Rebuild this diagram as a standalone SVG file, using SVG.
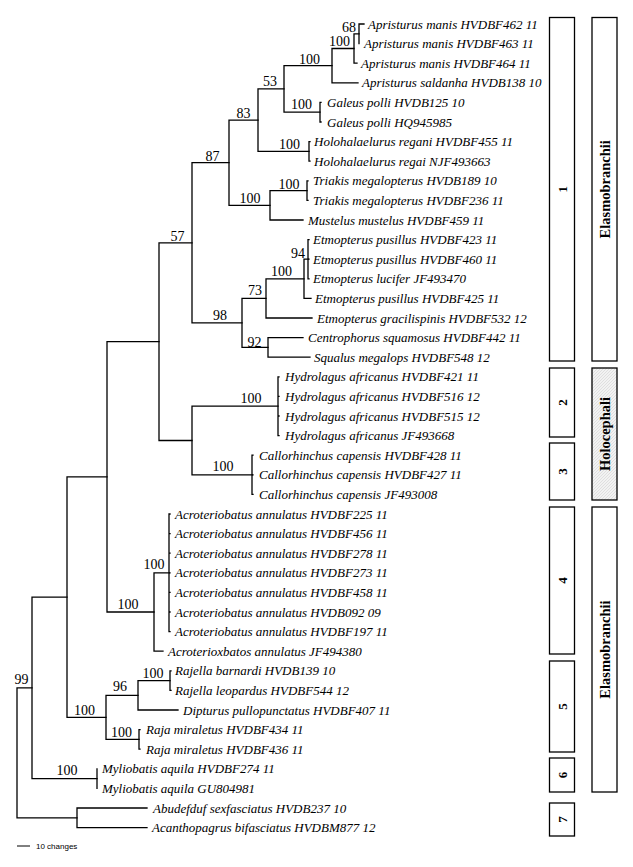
<svg xmlns="http://www.w3.org/2000/svg" width="633" height="867" viewBox="0 0 633 867">
<style>
.c{fill:none;stroke:#000;stroke-width:1.3;stroke-linecap:square}
.t{font-family:"Liberation Serif","Times New Roman",serif;font-style:italic;font-size:13px;fill:#000}
.s{font-family:"Liberation Serif","Times New Roman",serif;font-size:14px;fill:#000;text-anchor:middle}
.b{fill:#fff;stroke:#000;stroke-width:1.3}
.bn{font-family:"Liberation Serif","Times New Roman",serif;font-weight:bold;font-size:13px;text-anchor:middle}
.gl{font-family:"Liberation Serif","Times New Roman",serif;font-weight:bold;font-size:14.5px;text-anchor:middle}
</style>
<defs>
<pattern id="hatch" patternUnits="userSpaceOnUse" width="3" height="3">
<rect width="3" height="3" fill="#f2f2f2"/>
<path d="M-1 1 L1 -1 M0 3 L3 0 M2 4 L4 2" stroke="#d2d2d2" stroke-width="0.6"/>
</pattern>
</defs>
<rect width="633" height="867" fill="#fff"/>
<g id="connectors" class="c">
<path d="M364 24 H359 V43.6"/>
<path d="M359 33.8 H354 V63.2 H357"/>
<path d="M354 48.5 H332 V82.8 H358"/>
<path d="M321 102.4 H320 V122 H321"/>
<path d="M332 65.65 H284 V112.2 H320"/>
<path d="M310 141.6 H309 V161.2 H310"/>
<path d="M284 88.9 H258 V151.4 H309"/>
<path d="M308 180.8 H307 V200.4 H308"/>
<path d="M307 190.6 H270 V220 H303"/>
<path d="M258 120.15 H229 V205.3 H270"/>
<path d="M309 239.6 H308 V278.8 H309 M308 259.2 H309"/>
<path d="M308 259.2 H304 V298.4 H311"/>
<path d="M304 278.8 H266 V318 H312"/>
<path d="M303 337.6 H268 V357.2 H310"/>
<path d="M266 298.4 H242 V347.4 H268"/>
<path d="M229 162.7 H192 V322.9 H242"/>
<path d="M279 376.8 H278 V435.6 H279 M278 396.4 H279 M278 416 H279"/>
<path d="M253 455.2 H252 V494.4 H253 M252 474.8 H253"/>
<path d="M278 406.2 H192 V474.8 H252"/>
<path d="M192 242.8 H159 V440.5 H192"/>
<path d="M170 514 H169 V631.6 H170 M169 533.6 H170 M169 553.2 H170 M169 572.8 H170 M169 592.4 H170 M169 612 H170"/>
<path d="M169 572.8 H154 V651.2 H163"/>
<path d="M159 341.65 H107 V612 H154"/>
<path d="M171 670.8 H170 V690.4 H171"/>
<path d="M170 680.6 H138 V710 H178"/>
<path d="M140 729.6 H139 V749.2 H140"/>
<path d="M138 695.3 H106 V739.4 H139"/>
<path d="M107 476.8 H67 V717.35 H106"/>
<path d="M97 768.8 V788.4"/>
<path d="M67 597.1 H32 V778.6 H97"/>
<path d="M147 808 H77 V827.6 H147"/>
<path d="M32 687.85 H17 V817.8 H77"/>
</g>
<g id="support">
<text class="s" x="349" y="32">68</text>
<text class="s" x="339.5" y="46">100</text>
<text class="s" x="309.5" y="64">100</text>
<text class="s" x="270" y="86">53</text>
<text class="s" x="301.5" y="109">100</text>
<text class="s" x="243.5" y="118">83</text>
<text class="s" x="289.5" y="149">100</text>
<text class="s" x="212.5" y="160.5">87</text>
<text class="s" x="289" y="189">100</text>
<text class="s" x="250" y="203">100</text>
<text class="s" x="298" y="258">94</text>
<text class="s" x="281.5" y="276">100</text>
<text class="s" x="255" y="295">73</text>
<text class="s" x="220" y="320">98</text>
<text class="s" x="254.5" y="346.5">92</text>
<text class="s" x="177.5" y="241">57</text>
<text class="s" x="251" y="403">100</text>
<text class="s" x="223" y="471">100</text>
<text class="s" x="154" y="568.5">100</text>
<text class="s" x="128" y="609">100</text>
<text class="s" x="153" y="677.5">100</text>
<text class="s" x="120" y="691">96</text>
<text class="s" x="84.5" y="714.5">100</text>
<text class="s" x="121.5" y="736.5">100</text>
<text class="s" x="67" y="775">100</text>
<text class="s" x="21.5" y="683.5">99</text>
</g>
<g id="leaf1"><text class="t" x="368" y="28.5">Apristurus manis HVDBF462 11</text></g>
<g id="leaf2"><text class="t" x="364" y="48.1">Apristurus manis HVDBF463 11</text></g>
<g id="leaf3"><text class="t" x="361" y="67.7">Apristurus manis HVDBF464 11</text></g>
<g id="leaf4"><text class="t" x="362" y="87.3">Apristurus saldanha HVDB138 10</text></g>
<g id="leaf5"><text class="t" x="327" y="106.9">Galeus polli HVDB125 10</text></g>
<g id="leaf6"><text class="t" x="327" y="126.5">Galeus polli HQ945985</text></g>
<g id="leaf7"><text class="t" x="314" y="146.1">Holohalaelurus regani HVDBF455 11</text></g>
<g id="leaf8"><text class="t" x="314" y="165.7">Holohalaelurus regai NJF493663</text></g>
<g id="leaf9"><text class="t" x="313" y="185.3">Triakis megalopterus HVDB189 10</text></g>
<g id="leaf10"><text class="t" x="313" y="204.9">Triakis megalopterus HVDBF236 11</text></g>
<g id="leaf11"><text class="t" x="308" y="224.5">Mustelus mustelus HVDBF459 11</text></g>
<g id="leaf12"><text class="t" x="313" y="244.1">Etmopterus pusillus HVDBF423 11</text></g>
<g id="leaf13"><text class="t" x="313" y="263.7">Etmopterus pusillus HVDBF460 11</text></g>
<g id="leaf14"><text class="t" x="313" y="283.3">Etmopterus lucifer JF493470</text></g>
<g id="leaf15"><text class="t" x="315" y="302.9">Etmopterus pusillus HVDBF425 11</text></g>
<g id="leaf16"><text class="t" x="317" y="322.5">Etmopterus gracilispinis HVDBF532 12</text></g>
<g id="leaf17"><text class="t" x="308" y="342.1">Centrophorus squamosus HVDBF442 11</text></g>
<g id="leaf18"><text class="t" x="314" y="361.7">Squalus megalops HVDBF548 12</text></g>
<g id="leaf19"><text class="t" x="285" y="381.3">Hydrolagus africanus HVDBF421 11</text></g>
<g id="leaf20"><text class="t" x="285" y="400.9">Hydrolagus africanus HVDBF516 12</text></g>
<g id="leaf21"><text class="t" x="285" y="420.5">Hydrolagus africanus HVDBF515 12</text></g>
<g id="leaf22"><text class="t" x="285" y="440.1">Hydrolagus africanus JF493668</text></g>
<g id="leaf23"><text class="t" x="259" y="459.7">Callorhinchus capensis HVDBF428 11</text></g>
<g id="leaf24"><text class="t" x="259" y="479.3">Callorhinchus capensis HVDBF427 11</text></g>
<g id="leaf25"><text class="t" x="259" y="498.9">Callorhinchus capensis JF493008</text></g>
<g id="leaf26"><text class="t" x="175" y="518.5">Acroteriobatus annulatus HVDBF225 11</text></g>
<g id="leaf27"><text class="t" x="175" y="538.1">Acroteriobatus annulatus HVDBF456 11</text></g>
<g id="leaf28"><text class="t" x="175" y="557.7">Acroteriobatus annulatus HVDBF278 11</text></g>
<g id="leaf29"><text class="t" x="175" y="577.3">Acroteriobatus annulatus HVDBF273 11</text></g>
<g id="leaf30"><text class="t" x="175" y="596.9">Acroteriobatus annulatus HVDBF458 11</text></g>
<g id="leaf31"><text class="t" x="175" y="616.5">Acroteriobatus annulatus HVDB092 09</text></g>
<g id="leaf32"><text class="t" x="175" y="636.1">Acroteriobatus annulatus HVDBF197 11</text></g>
<g id="leaf33"><text class="t" x="168" y="655.7">Acroterioxbatos annulatus JF494380</text></g>
<g id="leaf34"><text class="t" x="175" y="675.3">Rajella barnardi HVDB139 10</text></g>
<g id="leaf35"><text class="t" x="175" y="694.9">Rajella leopardus HVDBF544 12</text></g>
<g id="leaf36"><text class="t" x="183" y="714.5">Dipturus pullopunctatus HVDBF407 11</text></g>
<g id="leaf37"><text class="t" x="146" y="734.1">Raja miraletus HVDBF434 11</text></g>
<g id="leaf38"><text class="t" x="146" y="753.7">Raja miraletus HVDBF436 11</text></g>
<g id="leaf39"><text class="t" x="102" y="773.3">Myliobatis aquila HVDBF274 11</text></g>
<g id="leaf40"><text class="t" x="102" y="792.9">Myliobatis aquila GU804981</text></g>
<g id="leaf41"><text class="t" x="153" y="812.5">Abudefduf sexfasciatus HVDB237 10</text></g>
<g id="leaf42"><text class="t" x="152" y="832.1">Acanthopagrus bifasciatus HVDBM877 12</text></g>
<g id="box1"><rect class="b" x="549.5" y="17.5" width="25" height="343.5"/><text class="bn" transform="translate(562,189.25) rotate(-90)" y="4.5">1</text></g>
<g id="box2"><rect class="b" x="549.5" y="368" width="25" height="69"/><text class="bn" transform="translate(562,402.5) rotate(-90)" y="4.5">2</text></g>
<g id="box3"><rect class="b" x="549.5" y="443" width="25" height="57"/><text class="bn" transform="translate(562,471.5) rotate(-90)" y="4.5">3</text></g>
<g id="box4"><rect class="b" x="549.5" y="507" width="25" height="147"/><text class="bn" transform="translate(562,580.5) rotate(-90)" y="4.5">4</text></g>
<g id="box5"><rect class="b" x="549.5" y="661" width="25" height="91"/><text class="bn" transform="translate(562,706.5) rotate(-90)" y="4.5">5</text></g>
<g id="box6"><rect class="b" x="549.5" y="758" width="25" height="34"/><text class="bn" transform="translate(562,775) rotate(-90)" y="4.5">6</text></g>
<g id="box7"><rect class="b" x="549.5" y="803" width="25" height="33"/><text class="bn" transform="translate(562,819.5) rotate(-90)" y="4.5">7</text></g>
<g id="elasmo1"><rect class="b" x="592" y="17.5" width="25" height="343.5"/><text class="gl" transform="translate(604.5,189.25) rotate(-90)" y="5">Elasmobranchii</text></g>
<g id="holocephali"><rect class="b" x="592" y="368" width="25" height="132" style="fill:url(#hatch)"/><text class="gl" transform="translate(604.5,434) rotate(-90)" y="5">Holocephali</text></g>
<g id="elasmo2"><rect class="b" x="592" y="507" width="25" height="285"/><text class="gl" transform="translate(604.5,649.5) rotate(-90)" y="5">Elasmobranchii</text></g>
<g id="scalebar"><path d="M17 846 H30" stroke="#000" stroke-width="1"/><text x="36" y="849" font-family="'Liberation Sans',Arial,sans-serif" font-size="8">10 changes</text></g>
</svg>
